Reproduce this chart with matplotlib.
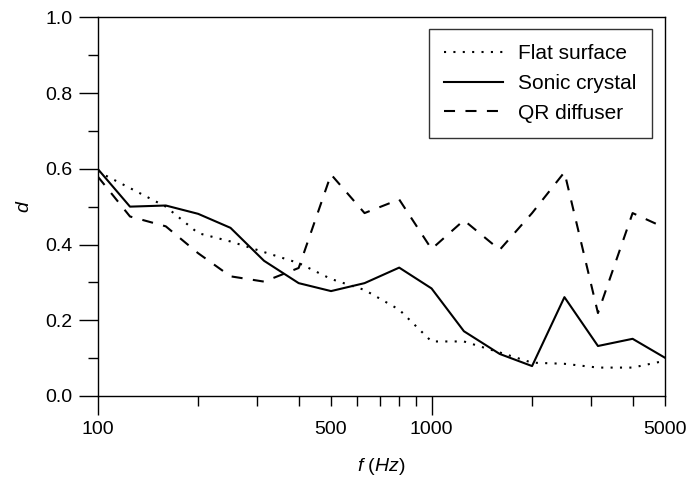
import matplotlib
matplotlib.use("Agg")
import matplotlib.pyplot as plt
from matplotlib.ticker import FixedLocator, FuncFormatter, MultipleLocator

plt.rcParams['font.family'] = ['Liberation Sans', 'DejaVu Sans']
plt.rcParams['mathtext.fontset'] = 'custom'
plt.rcParams['mathtext.it'] = 'Liberation Sans:italic'
plt.rcParams['mathtext.rm'] = 'Liberation Sans'

# third-octave band centre frequencies (Hz)
freqs = [100, 125, 160, 200, 250, 315, 400, 500, 630, 800,
         1000, 1250, 1600, 2000, 2500, 3150, 4000, 5000]

flat_surface = [0.593, 0.549, 0.500, 0.430, 0.408, 0.380, 0.351, 0.309, 0.280, 0.228,
                0.144, 0.144, 0.115, 0.088, 0.085, 0.075, 0.075, 0.093]
sonic_crystal = [0.600, 0.500, 0.503, 0.481, 0.444, 0.357, 0.298, 0.277, 0.298, 0.339,
                 0.284, 0.171, 0.111, 0.079, 0.261, 0.132, 0.151, 0.101]
qr_diffuser = [0.580, 0.474, 0.448, 0.377, 0.316, 0.302, 0.338, 0.585, 0.483, 0.519,
               0.388, 0.464, 0.386, 0.483, 0.591, 0.219, 0.483, 0.444]

major_x = [100, 1000]
minor_x = [200, 300, 400, 500, 600, 700, 800, 900, 2000, 3000, 4000, 5000]
labelled_minor = [500, 5000]

fig = plt.figure(figsize=(6.89, 4.79), dpi=100)
ax = fig.add_axes([0.1417, 0.1733, 0.8234, 0.7906])

ax.plot(freqs, flat_surface, color='black', lw=1.5, linestyle=(0, (1, 3.5)), label='Flat surface')
ax.plot(freqs, sonic_crystal, color='black', lw=1.5, linestyle='-', label='Sonic crystal')
ax.plot(freqs, qr_diffuser, color='black', lw=1.5, linestyle=(0, (5.3, 5)), label='QR diffuser')

ax.set_xscale('log')
ax.set_xlim(100, 5000)
ax.set_ylim(0, 1)
ax.xaxis.set_major_locator(FixedLocator(major_x))
ax.xaxis.set_minor_locator(FixedLocator(minor_x))
ax.xaxis.set_major_formatter(FuncFormatter(lambda v, p: '%d' % round(v)))
ax.xaxis.set_minor_formatter(FuncFormatter(
    lambda v, p: '%d' % round(v) if round(v) in labelled_minor else ''))
ax.yaxis.set_major_locator(MultipleLocator(0.2))
ax.yaxis.set_minor_locator(MultipleLocator(0.1))
ax.yaxis.set_major_formatter(plt.FormatStrFormatter('%.1f'))

ax.tick_params(which='major', direction='out', length=14, width=1, labelsize=14, pad=4)
ax.tick_params(which='minor', direction='out', length=7, width=1)
ax.tick_params(axis='x', which='minor', labelsize=14, pad=11)
ax.tick_params(top=False, right=False)
for s in ax.spines.values():
    s.set_linewidth(1)

ax.set_xlabel(r'$f$ $(Hz)$', fontsize=14, labelpad=13)
ax.set_ylabel(r'$d$', fontsize=14, labelpad=9)

leg = ax.legend(loc='upper right', fontsize=15, handlelength=2.8, frameon=True,
                fancybox=False, edgecolor='black', borderpad=0.72, labelspacing=0.52,
                handletextpad=0.75, borderaxespad=0, bbox_to_anchor=(0.9766, 0.969))
leg.get_frame().set_linewidth(1)

fig.savefig('out.png', dpi=100)
